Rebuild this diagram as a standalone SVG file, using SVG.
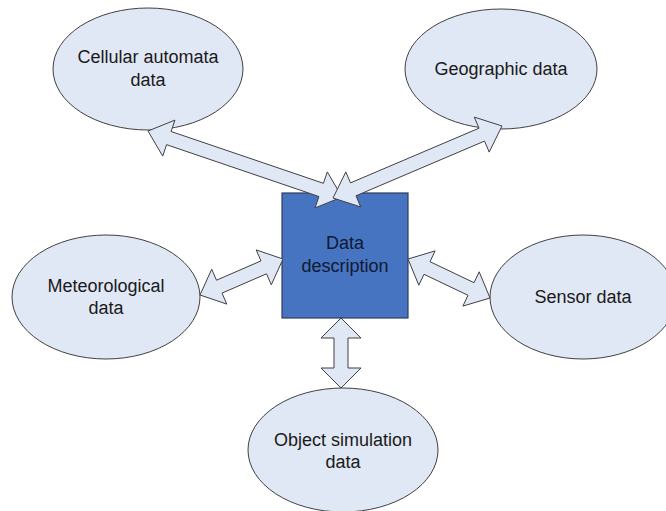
<svg xmlns="http://www.w3.org/2000/svg" width="666" height="511" viewBox="0 0 666 511">
<style>
.node{fill:#e1e8f5;stroke:#404040;stroke-width:1}
.box{fill:#4674c1;stroke:#2c3e5c;stroke-width:1.2}
.arrow{fill:#e1e8f5;stroke:#404040;stroke-width:1;stroke-linejoin:miter}
text{font-family:"Liberation Sans",Arial,sans-serif;font-size:18px;text-anchor:middle;fill:#1a1a1a}
.boxtext{fill:#0f1a33}
</style>
<rect width="666" height="511" fill="#ffffff"/>
<g id="cellular">
<ellipse class="node" cx="148" cy="69" rx="95" ry="61"/>
<text x="148" y="63">Cellular automata</text>
<text x="148" y="86">data</text>
</g>
<g id="geographic">
<ellipse class="node" cx="501" cy="69" rx="96" ry="60"/>
<text x="501" y="75">Geographic data</text>
</g>
<g id="meteorological">
<ellipse class="node" cx="106" cy="297" rx="94" ry="62"/>
<text x="106" y="292">Meteorological</text>
<text x="106" y="314">data</text>
</g>
<g id="sensor">
<ellipse class="node" cx="583" cy="297" rx="93" ry="62"/>
<text x="583" y="303">Sensor data</text>
</g>
<g id="object">
<ellipse class="node" cx="343" cy="450" rx="95" ry="62"/>
<text x="343" y="446">Object simulation</text>
<text x="343" y="468">data</text>
</g>
<g id="datadesc">
<rect class="box" x="282" y="193" width="126" height="125"/>
<text class="boxtext" x="345" y="249">Data</text>
<text class="boxtext" x="345" y="272">description</text>
</g>
<g id="connectors">
<polygon class="arrow" points="148,131 174.95,120.1 171.1,131.5 323.4,183.3 327.3,171.9 342,197 315.05,207.9 318.9,196.5 166.6,144.7 162.7,156.1"/>
<polygon class="arrow" points="333,198 345.8,171.9 350.5,182.9 479,128.2 474.3,117.1 502,126 489.2,152.1 484.5,141.1 356,195.8 360.7,206.9"/>
<polygon class="arrow" points="200,295 211.7,269.2 216.5,280.2 261,260.9 256.2,249.9 283,259 271.3,284.8 266.5,273.8 222,293.1 226.8,304.1"/>
<polygon class="arrow" points="408,259 435.1,250.9 430,261.7 474,282.7 479.2,271.8 490,298 462.9,306.1 468,295.3 424,274.3 418.8,285.2"/>
<polygon class="arrow" points="341,318 361,338 348,338 348,368 361,368 341,388 321,368 334,368 334,338 321,338"/>
</g>
</svg>
